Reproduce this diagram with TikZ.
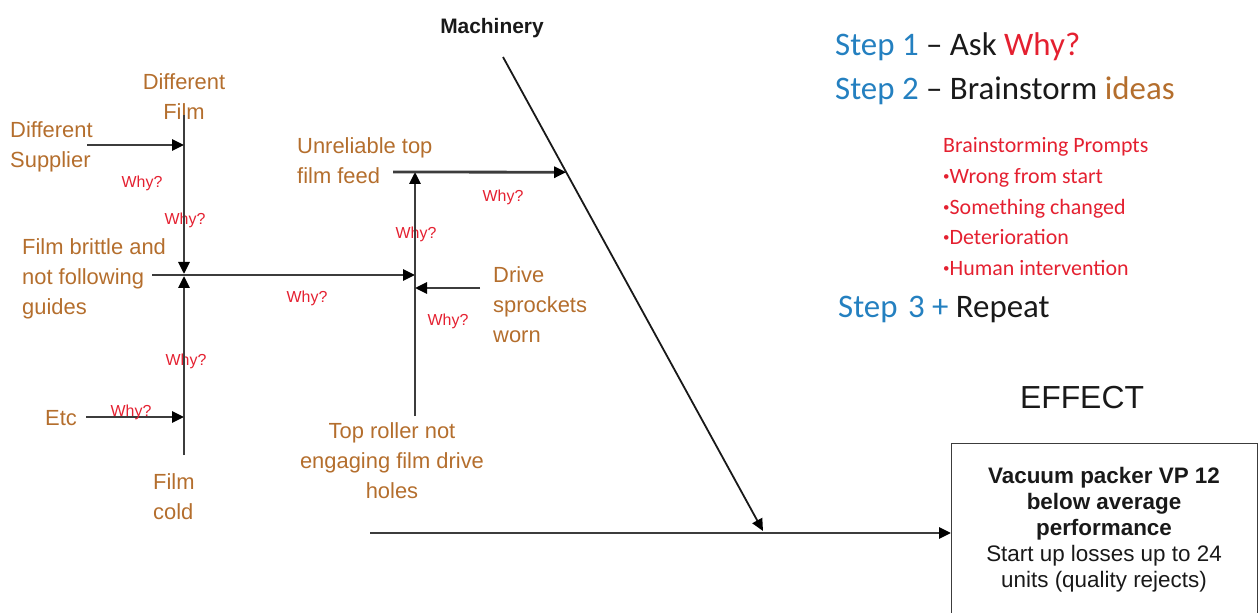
\documentclass[tikz,border=0pt]{standalone}
\usepackage{fontspec}
\setmainfont{Liberation Sans}
\newfontfamily\calib{Carlito}
\usetikzlibrary{arrows.meta}

\definecolor{causecol}{RGB}{180,110,45}
\definecolor{whycol}{RGB}{228,32,48}
\definecolor{stepcol}{RGB}{36,128,192}
\definecolor{bonecol}{RGB}{60,60,60}
\definecolor{inkcol}{RGB}{25,25,25}

\newcommand{\pbullet}{\raisebox{0.18em}{\fontsize{13}{13}\selectfont •}}

\tikzset{
  cause/.style={text=causecol, font=\fontsize{22}{30}\selectfont, inner sep=0pt, align=left},
  whylbl/.style={text=whycol, font=\fontsize{16}{18}\selectfont, inner sep=0pt},
  steptxt/.style={font=\calib\fontsize{33}{38}\selectfont, inner sep=0pt, anchor=base west, text=inkcol},
  prompt/.style={font=\calib\fontsize{22}{24}\selectfont, inner sep=0pt, anchor=base west, text=whycol},
  bone/.style={draw=bonecol, line width=2.8bp},
  tip/.style={-{Triangle[length=12bp,width=11bp,color=black]}},
}

\begin{document}
\begin{tikzpicture}[x=1bp, y=-1bp]
\useasboundingbox (0,0) rectangle (1258,613);

% ---- cause labels
\node[cause, align=center] (difffilm) at (184,97) {Different\\Film};
\node[cause, anchor=west] (diffsup) at (10,147) {Different\\Supplier};
\node[cause, anchor=west] (brittle) at (22,279) {Film brittle and\\not following\\guides};
\node[cause, anchor=west] (etc) at (45,418) {Etc};
\node[cause, anchor=west] (filmcold) at (153,497) {Film\\cold};
\node[cause, anchor=west] (unreliable) at (297,161) {Unreliable top\\film feed};
\node[cause, anchor=west] (drive) at (493,305) {Drive\\sprockets\\worn};
\node[cause, align=center] (toproller) at (392,461) {Top roller not\\engaging film drive\\holes};
\node[font=\bfseries\fontsize{21}{24}\selectfont, text=inkcol, inner sep=0pt] (machinery) at (492,28) {Machinery};

% ---- why labels
\node[whylbl] (w1) at (142,183) {Why?};
\node[whylbl] (w2) at (185,220) {Why?};
\node[whylbl] (w3) at (307,298) {Why?};
\node[whylbl] (w4) at (416,234) {Why?};
\node[whylbl] (w5) at (503,197) {Why?};
\node[whylbl] (w6) at (448,321) {Why?};
\node[whylbl] (w7) at (186,361) {Why?};

% ---- bone end points
\coordinate (ftop) at (184,115);
\coordinate (fbot) at (184,455);
\coordinate (fjoin) at (184,275);
\coordinate (supS) at (87,145);
\coordinate (supE) at (184,145);
\coordinate (etcS) at (86,417);
\coordinate (etcE) at (184,417);
\coordinate (britS) at (152,275);
\coordinate (rbot) at (415,416);
\coordinate (rtop) at (415,172);
\coordinate (rjoin) at (415,275);
\coordinate (drvS) at (480,288);
\coordinate (drvE) at (415,288);
\coordinate (feedS) at (393,172);
\coordinate (mtop) at (503,57);
\coordinate (mtip) at (763,531);
\coordinate (spS) at (370,533);

% ---- effect box
\node[draw=bonecol, line width=1.4bp, anchor=north west, minimum width=306bp, minimum height=200bp, inner sep=0pt] (effectbox) at (951,443) {};
\node[font=\fontsize{22.5}{26}\selectfont, text=inkcol, align=center, inner sep=0pt] (effecttext) at (1104,530)
  {\textbf{Vacuum packer VP 12}\\\textbf{below average}\\\textbf{performance}\\Start up losses up to 24\\units (quality rejects)};
\node[font=\fontsize{32}{36}\selectfont, text=inkcol, inner sep=0pt] (effect) at (1082,398) {EFFECT};

% ---- film branch
\draw[bone, tip, shorten >=1bp] (ftop) -- (fjoin);
\draw[bone, tip, shorten >=1bp] (fbot) -- (fjoin);
\draw[bone, tip] (supS) -- (supE);
\draw[bone, tip] (etcS) -- (etcE);
\draw[bone, tip] (britS) -- (rjoin);

% ---- top roller branch
\draw[bone, tip] (rbot) -- (rtop);
\draw[bone, tip] (drvS) -- (drvE);

% ---- machinery bone and spine
\draw[draw=inkcol, line width=1.8bp, tip] (mtop) -- (mtip);
\path (mtop) -- (mtip) coordinate[pos=0.2431] (feedE);
\draw[bone, tip] (feedS) -- (feedE);
\draw[bone, tip] (spS) -- (effectbox.west |- spS);

% Etc label sits on its arrow, drawn last
\node[whylbl] (w8) at (131,412) {Why?};

% ---- steps
\node[steptxt] (step1) at (835,56) {\textcolor{stepcol}{Step 1} – Ask \textcolor{whycol}{Why?}};
\node[steptxt] (step2) at (835,100) {\textcolor{stepcol}{Step 2} – Brainstorm \textcolor{causecol}{ideas}};
\node[prompt] (prm0) at (943,153) {Brainstorming Prompts};
\node[prompt] (prm1) at (943,184) {\pbullet Wrong from start};
\node[prompt] (prm2) at (943,215) {\pbullet Something changed};
\node[prompt] (prm3) at (943,245) {\pbullet Deterioration};
\node[prompt] (prm4) at (943,276) {\pbullet Human intervention};
\node[steptxt] (step3) at (838,318) {\textcolor{stepcol}{Step\hspace{3bp} 3 +} Repeat};
\end{tikzpicture}
\end{document}
